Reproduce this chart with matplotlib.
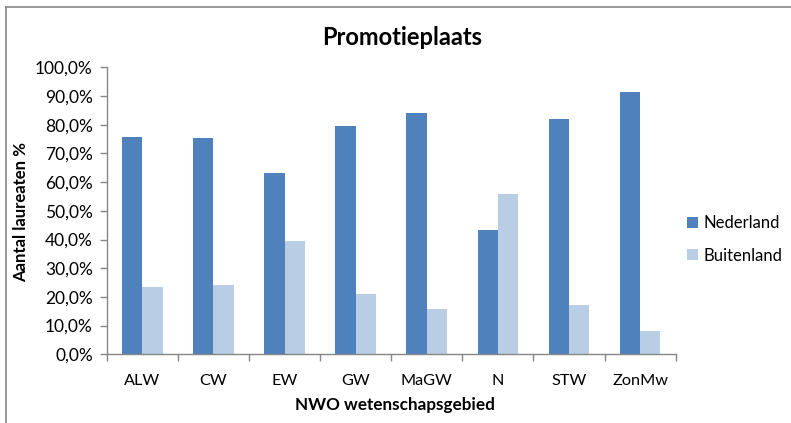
import matplotlib
matplotlib.use("Agg")
import matplotlib.pyplot as plt
import numpy as np
from matplotlib.ticker import FuncFormatter
from matplotlib.lines import Line2D

categories = ["ALW", "CW", "EW", "GW", "MaGW", "N", "STW", "ZonMw"]
nederland = [75.7, 75.4, 63.2, 79.6, 84.1, 43.3, 82.0, 91.4]
buitenland = [23.4, 24.1, 39.5, 21.0, 15.8, 55.9, 17.2, 8.1]
series_names = ["Nederland", "Buitenland"]
title = "Promotieplaats"
xlabel = "NWO wetenschapsgebied"
ylabel = "Aantal laureaten %"

plt.rcParams['font.family'] = ['Lato', 'DejaVu Sans']

fig = plt.figure(figsize=(7.91, 4.23), dpi=100)
ax = fig.add_axes([0.1349, 0.1624, 0.8542 - 0.1349, 0.8409 - 0.1624])

x = np.arange(len(categories))
w = 0.286
ax.bar(x - w / 2, nederland, w, color="#4F81BD", label=series_names[0])
ax.bar(x + w / 2, buitenland, w, color="#B9CDE5", label=series_names[1])

ax.set_xlim(-0.5, len(categories) - 0.5)
ax.set_ylim(0, 100)
ax.set_yticks(np.arange(0, 101, 10))
ax.yaxis.set_major_formatter(FuncFormatter(lambda v, p: f"{v:.1f}%".replace(".", ",")))
ax.set_xticks(x)
ax.set_xticklabels(categories)
ax.set_xticks(np.arange(-0.5, len(categories), 1), minor=True)
ax.tick_params(axis='x', which='major', length=0, pad=14, labelsize=11.7, colors="#000000")
ax.tick_params(axis='x', which='minor', length=5, color="#868686", width=1)
ax.tick_params(axis='y', length=5, color="#868686", width=1, labelsize=12.5, pad=5)

for s in ["top", "right"]:
    ax.spines[s].set_visible(False)
for s in ["left", "bottom"]:
    ax.spines[s].set_color("#868686")
    ax.spines[s].set_linewidth(1)

fig.text(0.509, 0.912, title, ha="center", va="center", fontsize=17, fontweight="bold")
fig.text(0.499, 0.042, xlabel, ha="center", va="center", fontsize=12.3, fontweight="bold")
fig.text(0.027, 0.50, ylabel, ha="center", va="center", rotation=90, fontsize=12.1, fontweight="bold")

leg = fig.legend(loc="upper left", bbox_to_anchor=(0.850, 0.527), frameon=False,
                 fontsize=12, handlelength=0.65, handleheight=0.65, handletextpad=0.3,
                 labelspacing=1.0)

# chart-area border (top and left edges visible in the reference)
fig.add_artist(Line2D([6 / 791, 6 / 791], [0, 1 - 7 / 423], transform=fig.transFigure,
                      color="#868686", linewidth=1.2))
fig.add_artist(Line2D([6 / 791, 1], [1 - 7 / 423, 1 - 7 / 423], transform=fig.transFigure,
                      color="#868686", linewidth=1.2))

fig.savefig("out.png", dpi=100)
